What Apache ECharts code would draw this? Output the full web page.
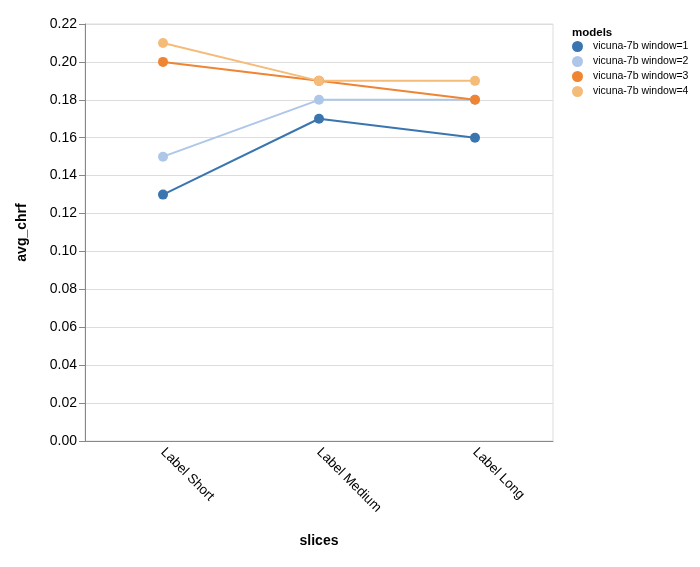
<!DOCTYPE html>
<html><head><meta charset="utf-8">
<script src="https://cdn.jsdelivr.net/npm/echarts@6/dist/echarts.min.js"></script>
<style>html,body{margin:0;padding:0;background:#fff}#c{width:700px;height:567px}</style>
</head><body><div id="c"></div>
<script>
const categories = ["Label Short", "Label Medium", "Label Long"];
const seriesNames = ["vicuna-7b window=1", "vicuna-7b window=2", "vicuna-7b window=3", "vicuna-7b window=4"];
const window1 = [0.13, 0.17, 0.16];
const window2 = [0.15, 0.18, 0.18];
const window3 = [0.20, 0.19, 0.18];
const window4 = [0.21, 0.19, 0.19];
const colors = ["#3a75b0", "#aec7e8", "#ef8432", "#f5bb78"];
const allValues = [window1, window2, window3, window4];

const font = "'Liberation Sans', Arial, Helvetica, sans-serif";
const chart = echarts.init(document.getElementById('c'), null, {renderer: 'canvas'});
chart.setOption({
  animation: false,
  backgroundColor: '#fff',
  textStyle: {fontFamily: font},
  title: {text: 'models', left: 572, top: 27, padding: 0, textStyle: {fontSize: 11.5, fontWeight: 'bold', color: '#000', fontFamily: font}},
  legend: {
    orient: 'vertical', left: 572, top: 41, itemGap: 4, padding: 0,
    icon: 'circle', itemWidth: 11, itemHeight: 11,
    textStyle: {fontSize: 10.5, color: '#000', fontFamily: font, padding: [0, 0, 0, 5]},
    data: seriesNames
  },
  grid: {left: 85, right: 147, top: 24, bottom: 126, show: true, borderColor: '#ddd', borderWidth: 1},
  xAxis: {
    type: 'category', data: categories, boundaryGap: true,
    name: 'slices', nameLocation: 'middle', nameGap: 93,
    nameTextStyle: {fontSize: 14, fontWeight: 'bold', color: '#000', fontFamily: font},
    axisLine: {lineStyle: {color: '#888', width: 1}},
    axisTick: {alignWithLabel: true, length: 6, lineStyle: {color: '#888'}},
    axisLabel: {rotate: -45, fontSize: 13.5, color: '#000', margin: 9, fontFamily: font},
    splitLine: {show: false}
  },
  yAxis: {
    type: 'value', min: 0, max: 0.22, interval: 0.02,
    name: 'avg_chrf', nameLocation: 'middle', nameGap: 56,
    nameTextStyle: {fontSize: 14, fontWeight: 'bold', color: '#000', fontFamily: font},
    axisLine: {show: true, lineStyle: {color: '#888', width: 1}},
    axisTick: {show: true, length: 6, lineStyle: {color: '#888'}},
    axisLabel: {fontSize: 14, color: '#000', margin: 8, fontFamily: font, formatter: v => v.toFixed(2)},
    splitLine: {lineStyle: {color: '#ddd', width: 1}}
  },
  series: seriesNames.map((n, i) => ({
    name: n, type: 'line', data: allValues[i],
    symbol: 'circle', symbolSize: 10, showSymbol: true,
    lineStyle: {width: 2, color: colors[i]},
    itemStyle: {color: colors[i]},
    emphasis: {disabled: true}
  }))
});
</script></body></html>
